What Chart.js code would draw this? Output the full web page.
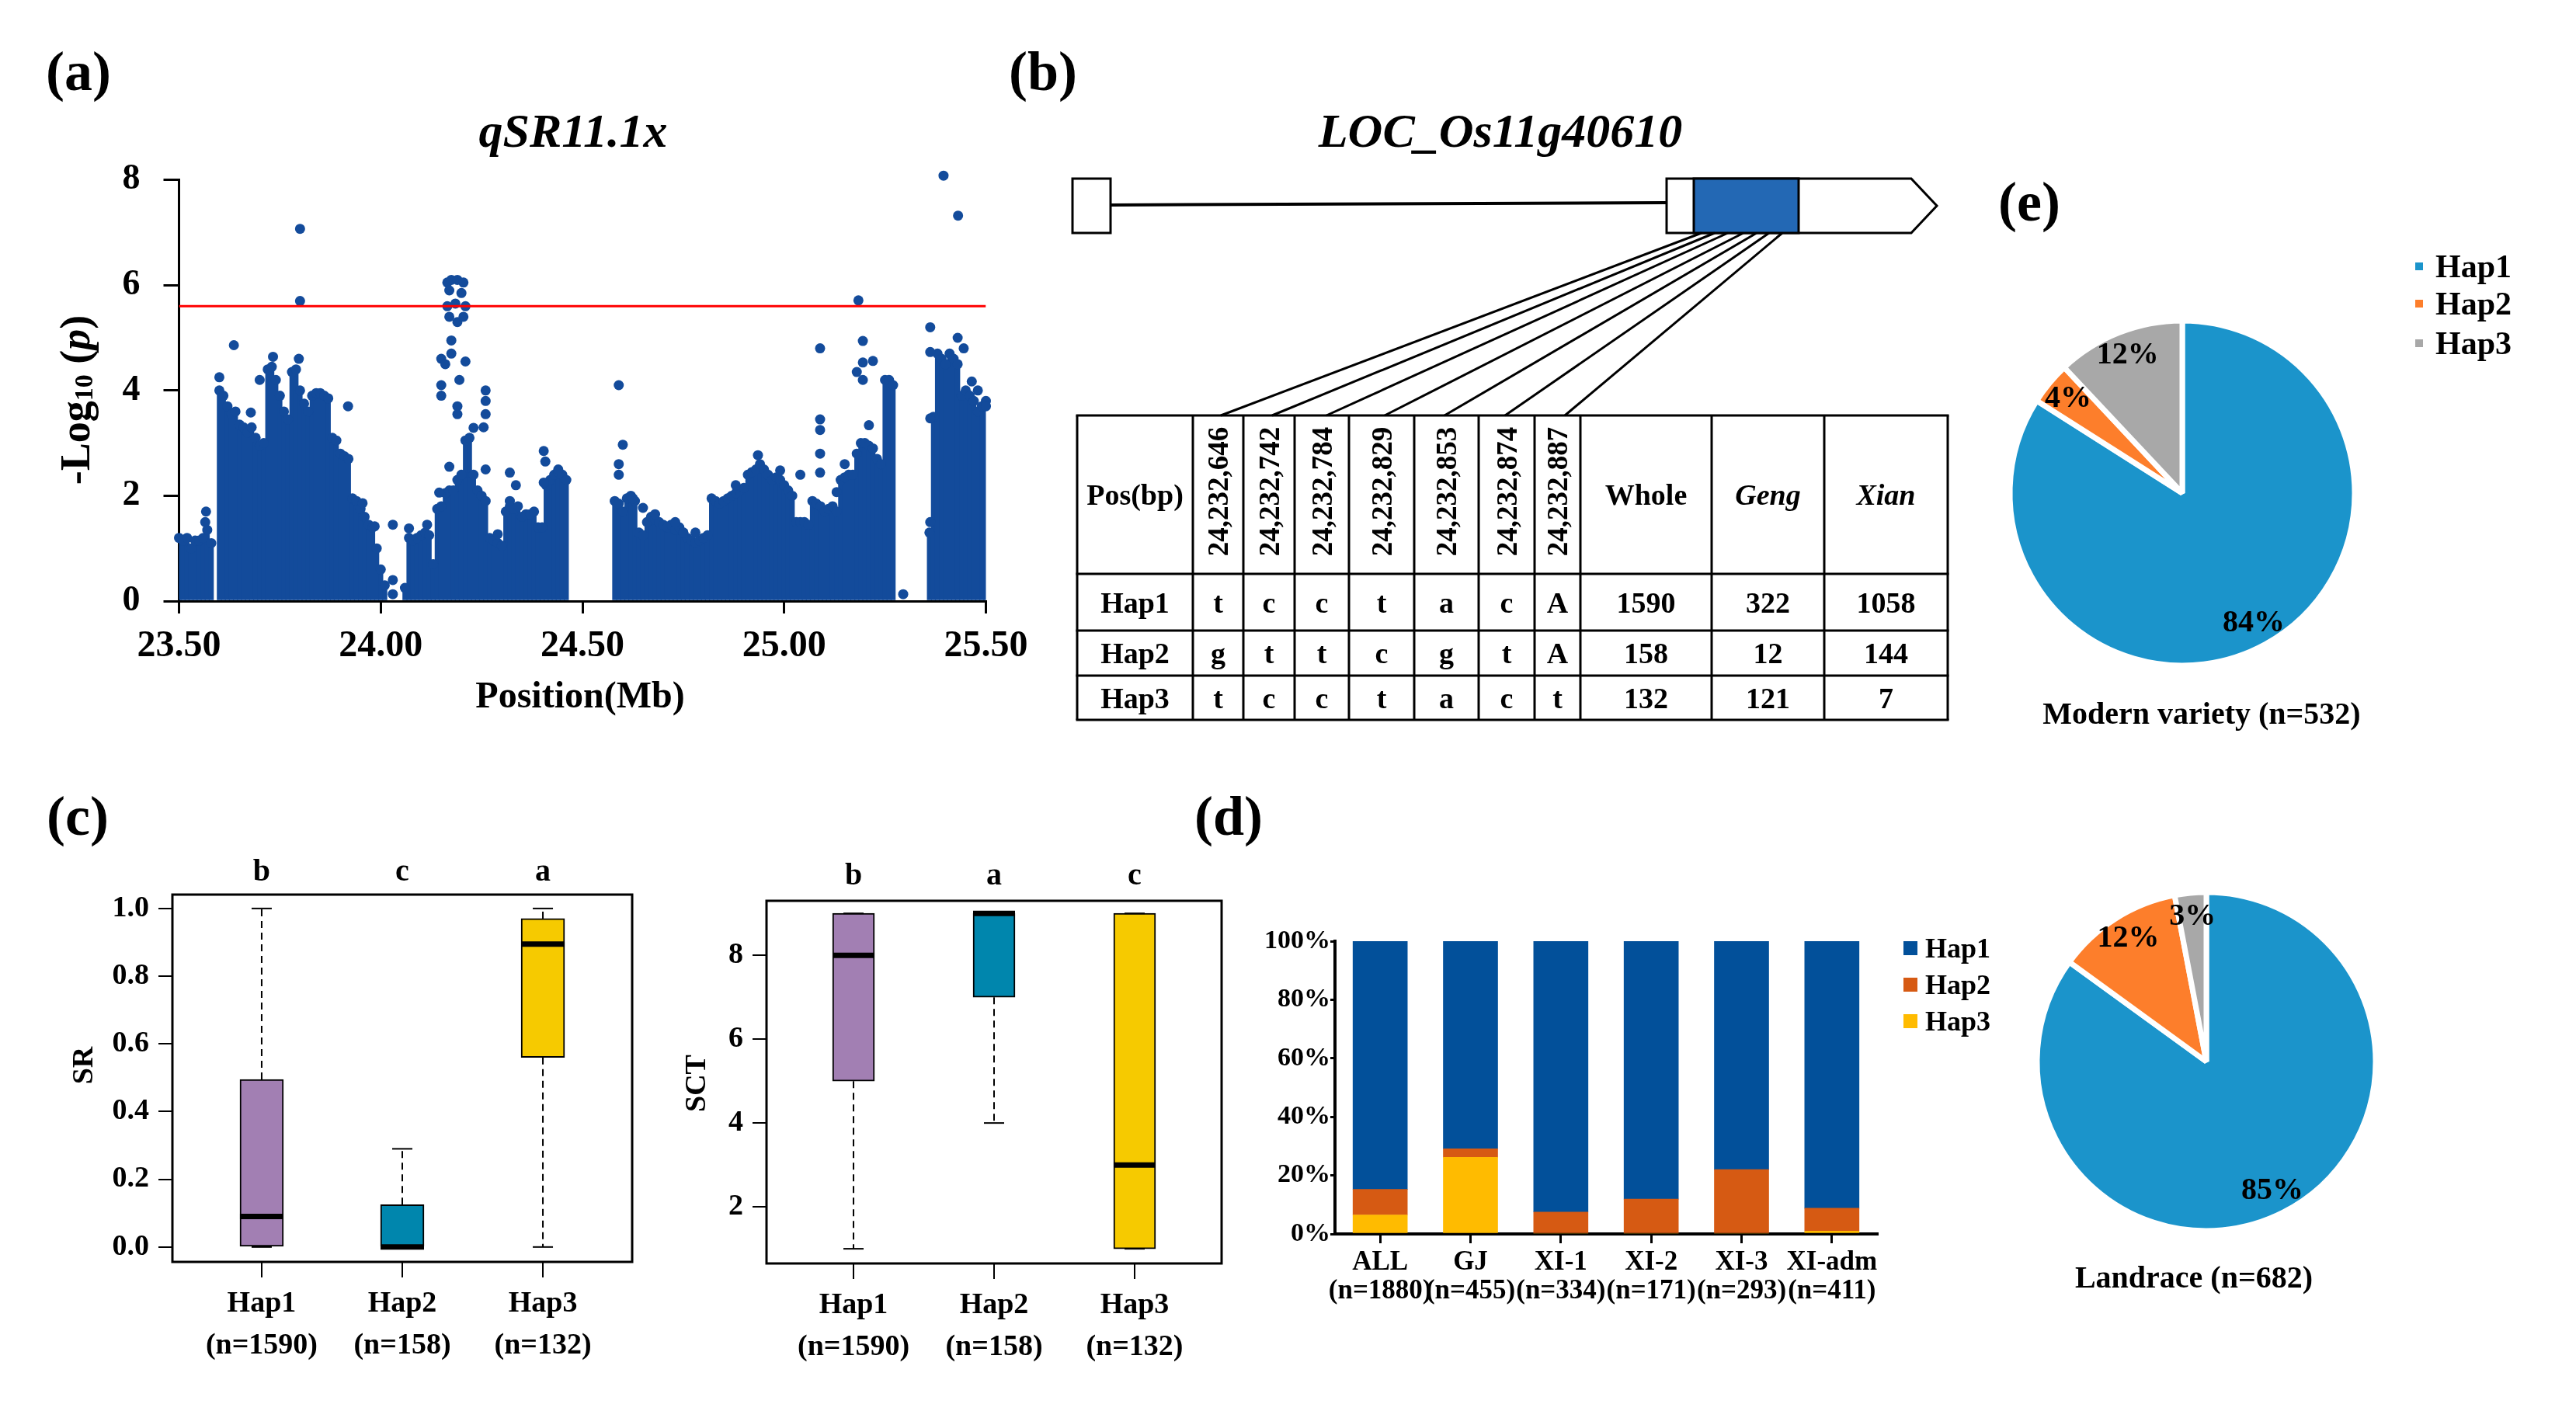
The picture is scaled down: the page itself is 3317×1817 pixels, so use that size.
<!DOCTYPE html>
<html>
<head>
<meta charset="utf-8">
<script src="https://cdn.jsdelivr.net/npm/chart.js@4.4.1/dist/chart.umd.min.js"></script>
<style>
html,body{margin:0;padding:0;background:#fff;}
body{width:3317px;height:1817px;position:relative;overflow:hidden;}
canvas{position:absolute;}
#ann{position:absolute;left:0;top:0;pointer-events:none;}
</style>
</head>
<body>
<canvas id="manhattan" width="1340" height="710" style="left:0;top:174.4px;width:1340px;height:710px"></canvas>
<canvas id="srBox" width="800" height="695" style="left:40px;top:1080px;width:800px;height:695px"></canvas>
<canvas id="sctBox" width="803" height="697" style="left:800px;top:1080px;width:803px;height:697px"></canvas>
<canvas id="hapBar" width="850" height="549" style="left:1600px;top:1150px;width:850px;height:549px"></canvas>
<canvas id="pieModern" width="480" height="480" style="left:2570px;top:395px;width:480px;height:480px"></canvas>
<canvas id="pieLand" width="480" height="480" style="left:2601px;top:1127px;width:480px;height:480px"></canvas>
<svg id="ann" width="3317" height="1817" xmlns="http://www.w3.org/2000/svg"></svg>
<script>
// ---------- data ----------
// (a) manhattan: column bins (Mb) and the top of the dense SNP fill
const manX = [
  23.50,23.51,23.52,23.53,23.54,23.55,23.56,23.57,23.58,23.59,
  23.60,23.61,23.62,23.63,23.64,23.65,23.66,23.67,23.68,23.69,
  23.70,23.71,23.72,23.73,23.74,23.75,23.76,23.77,23.78,23.79,
  23.80,23.81,23.82,23.83,23.84,23.85,23.86,23.87,23.88,23.89,
  23.90,23.91,23.92,23.93,23.94,23.95,23.96,23.97,23.98,23.99,
  24.00,24.01,24.02,24.03,24.04,24.05,24.06,24.07,24.08,24.09,
  24.10,24.11,24.12,24.13,24.14,24.15,24.16,24.17,24.18,24.19,
  24.20,24.21,24.22,24.23,24.24,24.25,24.26,24.27,24.28,24.29,
  24.30,24.31,24.32,24.33,24.34,24.35,24.36,24.37,24.38,24.39,
  24.40,24.41,24.42,24.43,24.44,24.45,24.46,24.47,24.48,24.49,
  24.50,24.51,24.52,24.53,24.54,24.55,24.56,24.57,24.58,24.59,
  24.60,24.61,24.62,24.63,24.64,24.65,24.66,24.67,24.68,24.69,
  24.70,24.71,24.72,24.73,24.74,24.75,24.76,24.77,24.78,24.79,
  24.80,24.81,24.82,24.83,24.84,24.85,24.86,24.87,24.88,24.89,
  24.90,24.91,24.92,24.93,24.94,24.95,24.96,24.97,24.98,24.99,
  25.00,25.01,25.02,25.03,25.04,25.05,25.06,25.07,25.08,25.09,
  25.10,25.11,25.12,25.13,25.14,25.15,25.16,25.17,25.18,25.19,
  25.20,25.21,25.22,25.23,25.24,25.25,25.26,25.27,25.28,25.29,
  25.30,25.31,25.32,25.33,25.34,25.35,25.36,25.37,25.38,25.39,
  25.40,25.41,25.42,25.43,25.44,25.45,25.46,25.47,25.48,25.49,
  25.50];
const manTop = [
  1.2,1.15,1.2,1.0,1.15,1.15,1.2,1.35,1.1,null,
  4.0,3.9,3.7,3.55,3.6,3.35,3.3,3.2,3.3,3.1,
  2.95,3.0,4.4,4.45,4.2,3.9,3.6,3.45,4.35,4.4,
  4.0,3.75,3.6,3.9,3.95,3.95,3.9,3.85,3.1,3.05,
  2.8,2.75,2.7,1.95,1.9,1.75,1.6,1.45,1.4,1.0,
  0.6,0.3,null,null,null,null,0.25,1.2,1.15,1.2,
  1.25,1.3,1.25,0.7,1.75,1.8,2.05,2.1,2.1,2.3,
  2.4,3.05,3.1,2.4,2.1,2.0,1.9,1.2,1.15,1.1,
  1.05,1.7,1.8,1.75,1.8,1.6,1.65,1.65,1.7,1.4,
  1.4,2.2,2.3,2.4,2.45,2.4,2.3,null,null,null,
  null,null,null,null,null,null,null,null,1.9,1.85,
  1.7,1.95,2.0,1.9,1.3,1.25,1.5,1.6,1.55,1.5,
  1.45,1.4,1.45,1.35,1.4,1.3,1.2,1.15,1.1,1.15,
  1.2,1.25,1.95,1.9,1.85,1.9,1.95,2.0,2.05,2.1,
  2.15,2.4,2.45,2.5,2.6,2.5,2.4,2.3,2.35,2.3,
  2.2,2.1,2.0,1.5,1.5,1.5,1.45,1.9,1.85,1.8,
  1.7,1.75,1.8,1.7,2.3,2.35,2.4,2.4,2.8,3.0,
  3.0,2.95,2.9,2.7,2.6,4.2,4.2,4.1,null,null,
  null,null,null,null,null,null,1.3,3.5,4.7,4.6,
  4.5,4.7,4.6,4.5,3.9,4.0,3.9,3.8,3.6,3.7,
  3.8];
// isolated SNP dots standing above the fill
const manHitX = [23.567,23.565,23.636,23.600,23.678,23.700,23.733,23.797,23.800,23.800,
  23.919,23.955,23.985,24.030,24.030,24.030,24.070,24.115,24.145,
  24.165,24.175,24.190,24.205,24.170,24.200,24.165,24.185,24.210,24.170,24.190,24.205,
  24.175,24.150,24.160,24.175,24.195,24.210,24.150,24.150,24.190,24.190,24.170,
  24.260,24.260,24.260,24.255,24.230,24.260,24.290,24.320,24.335,24.320,24.404,24.408,24.404,24.440,
  24.590,24.590,24.590,24.600,24.625,24.650,24.680,24.730,24.750,24.780,24.880,24.935,24.990,25.040,
  25.089,25.089,25.089,25.089,25.089,25.130,25.150,25.184,25.195,25.195,25.180,25.195,25.220,25.210,
  25.295,25.362,25.362,25.362,25.362,25.395,25.431,25.430,25.445,25.465,25.480,25.500];
const manHitY = [1.7,1.5,4.86,4.25,3.58,4.2,4.64,4.6,7.07,5.7,
  3.7,1.86,1.42,1.45,0.13,0.4,1.38,1.45,2.06,
  6.05,6.1,6.1,6.05,5.9,5.85,5.6,5.65,5.6,5.4,5.3,5.4,
  4.95,4.6,4.5,4.7,4.2,4.55,4.1,3.9,3.7,3.55,2.55,
  4.0,3.8,3.55,3.3,3.29,2.5,1.27,2.44,2.2,1.9,2.85,2.65,2.25,2.5,
  4.1,2.6,2.4,2.97,1.95,1.77,1.65,1.5,1.3,1.3,2.2,2.77,2.48,2.4,
  4.8,3.45,3.25,2.8,2.44,2.07,2.6,5.71,4.94,4.2,4.35,4.53,4.56,3.34,
  0.13,5.2,4.73,3.47,1.5,8.08,7.32,5.0,4.8,4.17,4.0,3.7];
const manXTicks = [23.5, 24.0, 24.5, 25.0, 25.5];
const manYTicks = [0, 2, 4, 6, 8];
const threshold = 5.6;

// (b) haplotype table
const snpPos = ['24,232,646','24,232,742','24,232,784','24,232,829','24,232,853','24,232,874','24,232,887'];
const hapNames = ['Hap1','Hap2','Hap3'];
const alleles = [
  ['t','c','c','t','a','c','A'],
  ['g','t','t','c','g','t','A'],
  ['t','c','c','t','a','c','t']];
const wholeN = [1590, 158, 132];
const gengN = [322, 12, 121];
const xianN = [1058, 144, 7];

// (c) boxplots
const hapN = ['(n=1590)','(n=158)','(n=132)'];
const srLo = [0, 0, 0], srQ1 = [0, 0, 0.56], srMed = [0.09, 0, 0.895], srQ3 = [0.495, 0.125, 0.97], srHi = [1.0, 0.29, 1.0];
const srSig = ['b','c','a'];
const srTicks = [0, 0.2, 0.4, 0.6, 0.8, 1.0];
const sctLo = [1, 4, 1], sctQ1 = [5, 7, 1], sctMed = [8, 9, 3], sctQ3 = [9, 9, 9], sctHi = [9, 9, 9];
const sctSig = ['b','a','c'];
const sctTicks = [2, 4, 6, 8];

// (d) haplotype frequency per subpopulation (%)
const groups = [['ALL','(n=1880)'],['GJ','(n=455)'],['XI-1','(n=334)'],['XI-2','(n=171)'],['XI-3','(n=293)'],['XI-adm','(n=411)']];
const hap1Pct = [84.8, 70.9, 92.5, 88.1, 78.0, 91.2];
const hap2Pct = [8.7, 2.9, 7.5, 11.9, 22.0, 7.8];
const hap3Pct = [6.5, 26.2, 0, 0, 0, 1.0];
const pctTicks = [0, 20, 40, 60, 80, 100];

// (e) pies
const modernPct = [84, 4, 12];
const landracePct = [85, 12, 3];

// colours
const manBlue = '#134b9b';
const boxColors = ['#a27fb3', '#0086ad', '#f6ca00'];
const barColors = ['#02509a', '#d65a13', '#ffbb00'];
const pieColors = ['#1b94cb', '#fd7e2b', '#a8a8a8'];

// ---------- defaults ----------
const SERIF = "'Liberation Serif', 'Times New Roman', serif";
Chart.defaults.font.family = SERIF;
Chart.defaults.font.weight = 'bold';
Chart.defaults.color = '#000';
Chart.defaults.animation = false;
Chart.defaults.plugins.legend.display = false;
Chart.defaults.plugins.tooltip.enabled = false;

const fixTicks = arr => s => { s.ticks = arr.map(v => ({value: v})); };

// ---------- (a) manhattan ----------
const cols = manX.map((x, i) => ({x: x, y: manTop[i]})).filter(p => p.y !== null);
const hits = manHitX.map((x, i) => ({x: x, y: manHitY[i]}));

new Chart(document.getElementById('manhattan'), {
  type: 'scatter',
  data: {
    datasets: [
      {type: 'line', data: [{x: manXTicks[0], y: threshold}, {x: manXTicks[manXTicks.length - 1], y: threshold}],
       borderColor: '#ff0000', borderWidth: 3, pointRadius: 0, order: 0},
      {type: 'scatter', data: cols.concat(hits), backgroundColor: manBlue, borderWidth: 0,
       pointRadius: 6.5, clip: false, order: 1},
      {type: 'bar', data: cols, backgroundColor: manBlue, barThickness: 5.8, order: 2}
    ]
  },
  options: {
    responsive: false,
    // top = half the "8" label + tick padding (57.6), so the canvas is shifted up instead
    layout: {padding: {left: 80.5, right: 70.5, top: 0, bottom: 0}},
    scales: {
      x: {
        type: 'linear', min: 23.5, max: 25.5, offset: false,
        afterBuildTicks: fixTicks(manXTicks),
        afterFit: s => { s.height = 110; },
        ticks: {callback: v => v.toFixed(2), font: {size: 48, weight: 'bold'}, padding: 14, maxRotation: 0, autoSkip: false},
        grid: {drawOnChartArea: false, tickLength: 16, color: '#000', lineWidth: 3, offset: false},
        border: {color: '#000', width: 3}
      },
      y: {
        min: 0, max: 8,
        afterBuildTicks: fixTicks(manYTicks),
        afterFit: s => { s.width = 150; },
        ticks: {font: {size: 46, weight: 'bold', lineHeight: 1.2}, padding: 30},
        grid: {drawOnChartArea: false, tickLength: 20, color: '#000', lineWidth: 3},
        border: {color: '#000', width: 3}
      }
    }
  }
});

// ---------- (c) boxplots ----------
function boxParts(o) {
  return {
    id: 'boxParts',
    afterDatasetsDraw(chart) {
      const {ctx, chartArea: a, scales: {x, y}} = chart;
      ctx.save();
      ctx.strokeStyle = '#000';
      const seg = (x1, y1, x2, y2) => { ctx.beginPath(); ctx.moveTo(x1, y1); ctx.lineTo(x2, y2); ctx.stroke(); };
      o.q1.forEach((q1, i) => {
        const cx = x.getPixelForValue(i + 1);
        const hb = o.bw / 2, hc = 13;
        ctx.lineWidth = 2;
        ctx.setLineDash([9, 6]);
        if (o.hi[i] > o.q3[i]) seg(cx, y.getPixelForValue(o.q3[i]), cx, y.getPixelForValue(o.hi[i]));
        if (o.lo[i] < q1) seg(cx, y.getPixelForValue(q1), cx, y.getPixelForValue(o.lo[i]));
        ctx.setLineDash([]);
        seg(cx - hc, y.getPixelForValue(o.hi[i]), cx + hc, y.getPixelForValue(o.hi[i]));
        seg(cx - hc, y.getPixelForValue(o.lo[i]), cx + hc, y.getPixelForValue(o.lo[i]));
        ctx.lineWidth = 7;
        const my = y.getPixelForValue(o.med[i]);
        seg(cx - hb, my, cx + hb, my);
        // significance letters
        ctx.fillStyle = '#000';
        ctx.font = 'bold 40px ' + SERIF;
        ctx.textAlign = 'center';
        ctx.textBaseline = 'middle';
        ctx.fillText(o.sig[i], cx, a.top - o.sigGap);
      });
      ctx.lineWidth = 3;
      ctx.strokeRect(a.left, a.top, a.right - a.left, a.bottom - a.top);
      ctx.restore();
    }
  };
}

function boxChart(id, o) {
  new Chart(document.getElementById(id), {
    type: 'bar',
    data: {
      datasets: [{
        data: o.q1.map((q, i) => ({x: i + 1, y: [q, o.q3[i]]})),
        backgroundColor: boxColors, borderColor: '#000', borderWidth: 2,
        borderSkipped: false, barThickness: o.bw
      }]
    },
    options: {
      responsive: false,
      layout: {padding: o.pad},
      scales: {
        x: {
          type: 'linear', offset: false, min: o.xmin, max: o.xmax,
          afterBuildTicks: fixTicks(hapNames.map((_, i) => i + 1)),
          afterFit: s => { s.height = 150; },
          ticks: {callback: v => [hapNames[v - 1], hapN[v - 1]], font: {size: 38, weight: 'bold', lineHeight: 1.4},
                  padding: 8, maxRotation: 0, autoSkip: false},
          grid: {drawOnChartArea: false, tickLength: 20, color: '#000', lineWidth: 2, offset: false},
          border: {display: false}
        },
        y: {
          min: o.ymin, max: o.ymax,
          afterBuildTicks: fixTicks(o.ticks),
          afterFit: s => { s.width = o.yw; },
          ticks: {callback: o.fmt, font: {size: 38, weight: 'bold'}, padding: 12},
          grid: {drawOnChartArea: false, tickLength: 18, color: '#000', lineWidth: 2},
          border: {display: false}
        }
      }
    },
    plugins: [boxParts(o)]
  });
}

boxChart('srBox', {lo: srLo, q1: srQ1, med: srMed, q3: srQ3, hi: srHi, sig: srSig, ticks: srTicks,
  ymin: -0.044, ymax: 1.041, xmin: 0.365, xmax: 3.635, bw: 56, yw: 182, sigGap: 28,
  pad: {left: 0, right: 26, top: 72, bottom: 0}, fmt: v => v.toFixed(1)});
boxChart('sctBox', {lo: sctLo, q1: sctQ1, med: sctMed, q3: sctQ3, hi: sctHi, sig: sctSig, ticks: sctTicks,
  ymin: 0.65, ymax: 9.3, xmin: 0.381, xmax: 3.619, bw: 54, yw: 187, sigGap: 31,
  pad: {left: 0, right: 30, top: 80, bottom: 0}, fmt: v => String(v)});

// ---------- (d) stacked bars ----------
new Chart(document.getElementById('hapBar'), {
  type: 'bar',
  data: {
    labels: groups,
    datasets: [
      {label: hapNames[2], data: hap3Pct, backgroundColor: barColors[2]},
      {label: hapNames[1], data: hap2Pct, backgroundColor: barColors[1]},
      {label: hapNames[0], data: hap1Pct, backgroundColor: barColors[0]}
    ]
  },
  options: {
    responsive: false,
    datasets: {bar: {barThickness: 70}},
    layout: {padding: {left: 0, right: 33, top: 62, bottom: 0}},
    scales: {
      x: {
        stacked: true,
        afterFit: s => { s.height = 110; },
        ticks: {font: {size: 35, weight: 'bold', lineHeight: 1.06}, padding: 6, maxRotation: 0, autoSkip: false},
        grid: {drawOnChartArea: false, offset: false, tickLength: 12, color: '#000', lineWidth: 3},
        border: {color: '#000', width: 4}
      },
      y: {
        stacked: true, min: 0, max: 100,
        afterBuildTicks: fixTicks(pctTicks),
        afterFit: s => { s.width = 119; },
        ticks: {callback: v => v + '%', font: {size: 34, weight: 'bold'}, padding: 0},
        grid: {drawOnChartArea: false, tickLength: 6, color: '#000', lineWidth: 3},
        border: {color: '#000', width: 4}
      }
    }
  }
});

// ---------- (e) pies ----------
const pieLabels = {
  id: 'pieLabels',
  afterDatasetsDraw(chart) {
    const {ctx} = chart;
    const vals = chart.data.datasets[0].data;
    ctx.save();
    ctx.fillStyle = '#000';
    ctx.font = 'bold 40px ' + SERIF;
    ctx.textAlign = 'center';
    ctx.textBaseline = 'middle';
    chart.getDatasetMeta(0).data.forEach((arc, i) => {
      const p = arc.getProps(['x', 'y', 'startAngle', 'endAngle', 'outerRadius'], true);
      const mid = (p.startAngle + p.endAngle) / 2;
      const r = p.outerRadius * 0.86;
      ctx.fillText(vals[i] + '%', p.x + Math.cos(mid) * r, p.y + Math.sin(mid) * r);
    });
    ctx.restore();
  }
};
function pie(id, vals, radius) {
  new Chart(document.getElementById(id), {
    type: 'pie',
    data: {labels: hapNames, datasets: [{data: vals, backgroundColor: pieColors, borderColor: '#fff', borderWidth: 7, radius: radius}]},
    options: {responsive: false, radius: radius},
    plugins: [pieLabels]
  });
}
pie('pieModern', modernPct, 222);
pie('pieLand', landracePct, 218);

// ---------- annotations: titles, gene model, table, legends ----------
const NS = 'http://www.w3.org/2000/svg';
const svg = document.getElementById('ann');
function el(tag, attrs, parent) {
  const e = document.createElementNS(NS, tag);
  for (const k in attrs) e.setAttribute(k, attrs[k]);
  (parent || svg).appendChild(e);
  return e;
}
function text(x, y, s, size, o) {
  o = o || {};
  const t = el('text', {x: x, y: y, 'font-family': SERIF, 'font-weight': 'bold', 'font-size': size,
    'text-anchor': o.anchor || 'middle', 'dominant-baseline': 'central', fill: '#000'});
  if (o.italic) t.setAttribute('font-style', 'italic');
  if (o.rot) t.setAttribute('transform', 'rotate(' + o.rot + ' ' + x + ' ' + y + ')');
  t.textContent = s;
  return t;
}

// panel letters
text(101, 92, '(a)', 72);
text(1343, 92, '(b)', 72);
text(100, 1051, '(c)', 72);
text(1582, 1051, '(d)', 72);
text(2613, 260, '(e)', 72);

// (a) titles
text(738, 168, 'qSR11.1x', 62, {italic: true});
text(747, 894, 'Position(Mb)', 48);
const yl = text(97, 515, '', 54, {rot: -90});
yl.textContent = '-Log';
el('tspan', {'font-size': 34, dy: 10}, yl).textContent = '10';
el('tspan', {dy: -10}, yl).textContent = ' (';
el('tspan', {'font-style': 'italic'}, yl).textContent = 'p';
el('tspan', {}, yl).textContent = ')';

// (b) gene model
text(1932, 168, 'LOC_Os11g40610', 62, {italic: true});
el('line', {x1: 1430, y1: 264, x2: 2146, y2: 261, stroke: '#000', 'stroke-width': 4});
el('rect', {x: 1381, y: 230, width: 49, height: 70, fill: '#fff', stroke: '#000', 'stroke-width': 3});
el('polygon', {points: '2146,230 2461,230 2494,265 2461,300 2146,300', fill: '#fff', stroke: '#000', 'stroke-width': 3});
el('rect', {x: 2181, y: 230, width: 135, height: 70, fill: '#2368b4', stroke: '#000', 'stroke-width': 3});
const lineTop = [2191, 2208, 2225, 2245, 2262, 2278, 2295];
const lineBot = [1572, 1638, 1708, 1783, 1860, 1938, 2015];
lineTop.forEach((x, i) => el('line', {x1: x, y1: 300, x2: lineBot[i], y2: 535, stroke: '#000', 'stroke-width': 3}));

// (b) table
const colEdges = [1387, 1536, 1601, 1667, 1737, 1821, 1904, 1976, 2035, 2204, 2349, 2508];
const rowEdges = [535, 739, 812, 870, 927];
colEdges.forEach(x => el('line', {x1: x, y1: rowEdges[0], x2: x, y2: rowEdges[4], stroke: '#000', 'stroke-width': 3}));
rowEdges.forEach(y => el('line', {x1: colEdges[0] - 1.5, y1: y, x2: colEdges[11] + 1.5, y2: y, stroke: '#000', 'stroke-width': 3}));
const colMid = i => (colEdges[i] + colEdges[i + 1]) / 2;
const rowMid = i => (rowEdges[i] + rowEdges[i + 1]) / 2;
text(colMid(0), rowMid(0), 'Pos(bp)', 38);
snpPos.forEach((p, i) => text(colMid(i + 1), rowMid(0) - 4, p, 37, {rot: -90}));
text(colMid(8), rowMid(0), 'Whole', 38);
text(colMid(9), rowMid(0), 'Geng', 38, {italic: true});
text(colMid(10), rowMid(0), 'Xian', 38, {italic: true});
hapNames.forEach((h, r) => {
  const y = rowMid(r + 1);
  text(colMid(0), y, h, 38);
  alleles[r].forEach((a, i) => text(colMid(i + 1), y, a, 38));
  text(colMid(8), y, String(wholeN[r]), 38);
  text(colMid(9), y, String(gengN[r]), 38);
  text(colMid(10), y, String(xianN[r]), 38);
});

// (c) axis titles
text(106, 1372, 'SR', 38, {rot: -90});
text(895, 1395, 'SCT', 38, {rot: -90});

// (d) legend
hapNames.forEach((h, i) => {
  const y = [1221, 1268, 1315][i];
  el('rect', {x: 2451, y: y - 9, width: 18, height: 18, fill: barColors[i]});
  text(2479, y, h, 36, {anchor: 'start'});
});

// (e) legend and pie titles
hapNames.forEach((h, i) => {
  const y = [343, 391, 442][i];
  el('rect', {x: 3110, y: y - 5, width: 10, height: 10, fill: pieColors[i]});
  text(3136, y, h, 42, {anchor: 'start'});
});
text(2835, 918, 'Modern variety (n=532)', 40);
text(2825, 1644, 'Landrace (n=682)', 40);
</script>
</body>
</html>
